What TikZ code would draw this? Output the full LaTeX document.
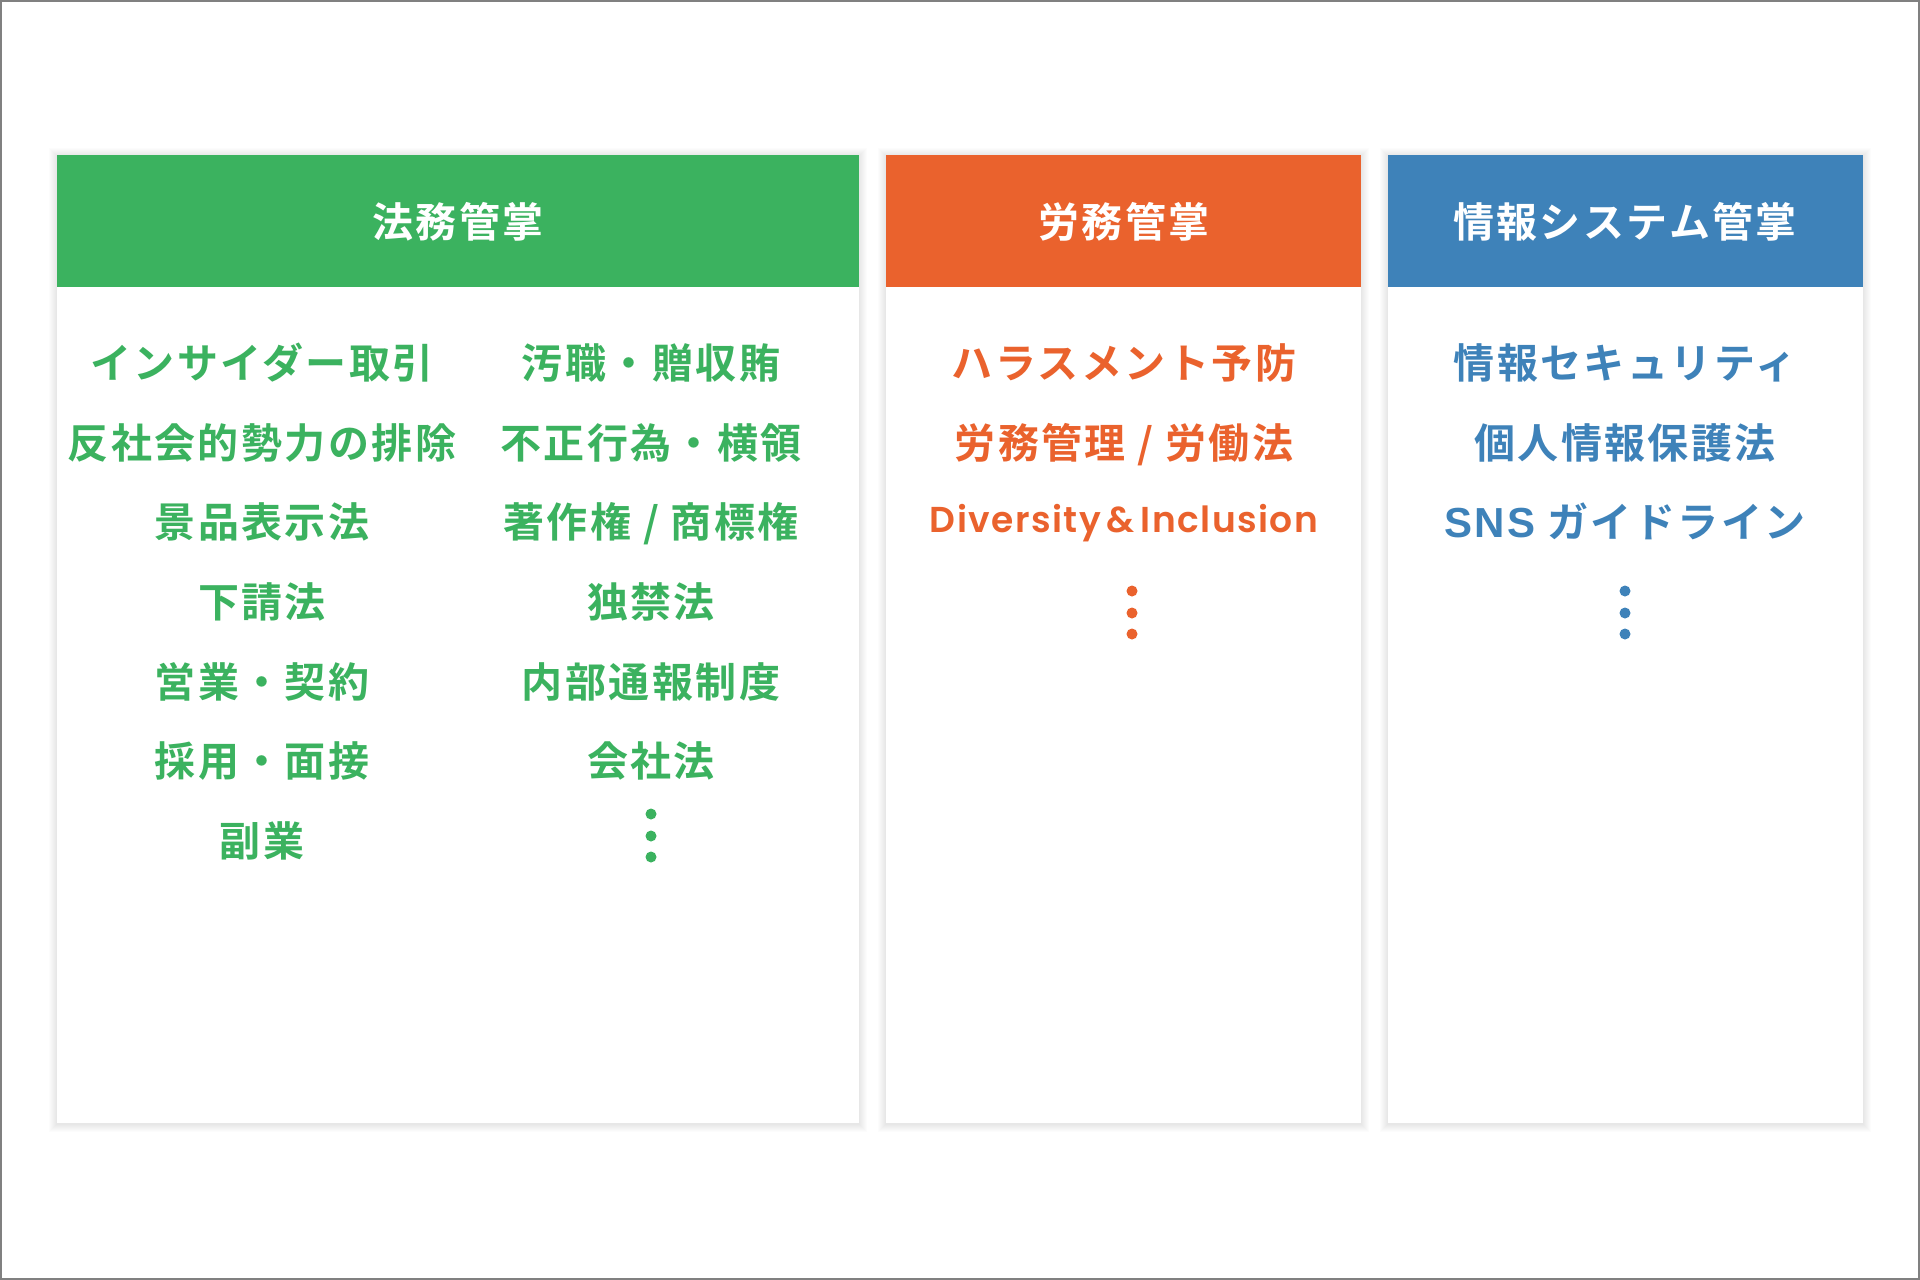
\documentclass[tikz,border=0pt]{standalone}
\usepackage{fontspec}
\newfontfamily\jpb[LetterSpace=6]{Noto Sans CJK JP Bold}
\newfontfamily\arialb[LetterSpace=6]{Liberation Sans Bold}
\newfontfamily\latmed[LetterSpace=4]{Poppins SemiBold}
\definecolor{cgreen}{RGB}{59,178,95}
\definecolor{corange}{RGB}{234,98,45}
\definecolor{cblue}{RGB}{62,130,185}
\definecolor{frame}{RGB}{128,128,128}
\tikzset{
  shadowlayer/.style={fill=black, fill opacity=0.013, draw=none},
  panelbody/.style={fill=white, draw=none},
  htext/.style={text=white, font=\jpb\fontsize{41}{41}\selectfont, anchor=base, inner sep=0pt},
  item/.style={font=\jpb\fontsize{41}{41}\selectfont, anchor=base, inner sep=0pt},
  dotmark/.style={circle, minimum size=11pt, inner sep=0pt, draw=none},
}
\newcommand{\panelbox}[5]{% x1 y1 x2 y2 colour
  \foreach \k in {1,...,8}{
    \path[shadowlayer] (#1-\k,#2-\k+1) rectangle (#3+\k,#4+\k+1);
  }
  \path[panelbody] (#1,#2) rectangle (#3,#4);
  \path[fill=#5] (#1,#2) rectangle (#3,287);
}
\begin{document}
\begin{tikzpicture}[x=1pt,y=-1pt]
\useasboundingbox (0,0) rectangle (1920,1280);
\fill[white] (0,0) rectangle (1920,1280);
\draw[frame, line width=2pt] (1,1) rectangle (1919,1279);

\panelbox{57}{155}{859}{1123}{cgreen}
\panelbox{886}{155}{1361}{1123}{corange}
\panelbox{1388}{155}{1863}{1123}{cblue}

% headers
\node[htext] (h1) at (458,237) {法務管掌};
\node[htext] (h2) at (1124,237) {労務管掌};
\node[htext] (h3) at (1625,237) {情報システム管掌};

% left panel
\begin{scope}[every node/.style={item, text=cgreen}]
\node (l1) at (262,378) {インサイダー取引};
\node (l2) at (262,458) {反社会的勢力の排除};
\node (l3) at (262,537) {景品表示法};
\node (l4) at (262,617) {下請法};
\node (l5) at (262,697) {営業・契約};
\node (l6) at (262,776) {採用・面接};
\node (l7) at (262,856) {副業};
\node (r1) at (651,378) {汚職・贈収賄};
\node (r2) at (651,458) {不正行為・横領};
\node (r3) at (651,537) {著作権 / 商標権};
\node (r4) at (651,617) {独禁法};
\node (r5) at (651,697) {内部通報制度};
\node (r6) at (651,776) {会社法};
\end{scope}
\node[dotmark, fill=cgreen] (gd1) at (651,814) {};
\node[dotmark, fill=cgreen] (gd2) at (651,836) {};
\node[dotmark, fill=cgreen] (gd3) at (651,857) {};

% middle panel
\begin{scope}[every node/.style={item, text=corange}]
\node (m1) at (1124,378) {ハラスメント予防};
\node (m2) at (1124,458) {労務管理 / 労働法};
\node[font=\latmed\fontsize{36}{36}\selectfont] (m3) at (1124,532) {Diversity\hspace{6pt}\&\hspace{6pt}Inclusion};
\end{scope}
\node[dotmark, fill=corange] (od1) at (1132,591) {};
\node[dotmark, fill=corange] (od2) at (1132,613) {};
\node[dotmark, fill=corange] (od3) at (1132,634) {};

% right panel
\begin{scope}[every node/.style={item, text=cblue}]
\node (s1) at (1625,378) {情報セキュリティ};
\node (s2) at (1625,458) {個人情報保護法};
\node (s3) at (1625,537) {{\arialb\fontsize{42}{42}\selectfont SNS} ガイドライン};
\end{scope}
\node[dotmark, fill=cblue] (bd1) at (1625,591) {};
\node[dotmark, fill=cblue] (bd2) at (1625,613) {};
\node[dotmark, fill=cblue] (bd3) at (1625,634) {};
\end{tikzpicture}
\end{document}
